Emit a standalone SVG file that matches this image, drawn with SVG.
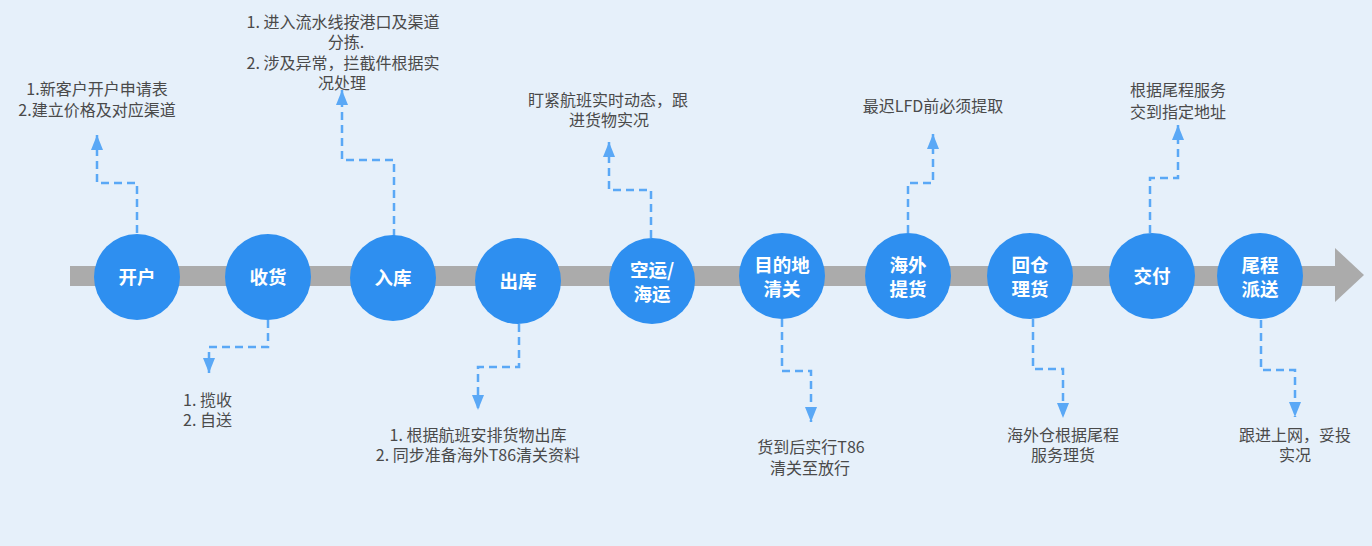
<svg xmlns="http://www.w3.org/2000/svg" width="1372" height="546" viewBox="0 0 1372 546">
<style>
.bg{fill:#e6f0fa}
.bar{fill:#ababab}
.node circle{fill:#2e8ff0}
.node text{fill:#ffffff;font-family:"Noto Sans CJK SC","Noto Sans",sans-serif;font-size:18.5px;font-weight:bold;text-anchor:middle}
.note{fill:#4a4a4a;font-family:"Noto Sans CJK SC","Noto Sans",sans-serif;font-size:16px;text-anchor:middle}
.conn polyline{fill:none;stroke:#5aa8f6;stroke-width:2.5;stroke-dasharray:8 5;marker-end:url(#ah)}
</style>
<defs>
<marker id="ah" markerUnits="userSpaceOnUse" markerWidth="15" markerHeight="12" viewBox="0 0 15 12" refX="15" refY="6" orient="auto">
<path d="M0,0 L15,6 L0,12 Z" fill="#5aa8f6"/>
</marker>
</defs>
<rect class="bg" x="0" y="0" width="1372" height="546"/>
<g id="timeline">
<rect class="bar" x="70" y="266" width="1267" height="20"/>
<polygon class="bar" points="1335,248 1364,275 1335,302"/>
</g>
<g id="connectors" class="conn">
<polyline points="137,233 137,183 97,183 97,135"/>
<polyline points="268,320 268,347 209,347 209,373"/>
<polyline points="394,237 394,160 342,160 342,90"/>
<polyline points="519,324 519,367 478,367 478,410"/>
<polyline points="651,238 651,190 609,190 609,142"/>
<polyline points="782,319 782,371 811,371 811,422"/>
<polyline points="908,233 908,183 933,183 933,134"/>
<polyline points="1033,319 1033,369 1063,369 1063,418"/>
<polyline points="1150,233 1150,178 1178,178 1178,125"/>
<polyline points="1261,320 1261,370 1295,370 1295,417"/>
</g>
<g id="n1" class="node"><circle cx="137" cy="277" r="43"/><text x="137" y="284">开户</text></g>
<g id="n2" class="node"><circle cx="268" cy="277" r="43"/><text x="268" y="284">收货</text></g>
<g id="n3" class="node"><circle cx="393" cy="278" r="43"/><text x="393" y="285">入库</text></g>
<g id="n4" class="node"><circle cx="518" cy="281" r="43"/><text x="518" y="288">出库</text></g>
<g id="n5" class="node"><circle cx="652" cy="281" r="43"/><text x="652" y="277">空运/<tspan x="652" dy="24">海运</tspan></text></g>
<g id="n6" class="node"><circle cx="782" cy="276" r="43"/><text x="782" y="272">目的地<tspan x="782" dy="24">清关</tspan></text></g>
<g id="n7" class="node"><circle cx="908" cy="276" r="43"/><text x="908" y="272">海外<tspan x="908" dy="24">提货</tspan></text></g>
<g id="n8" class="node"><circle cx="1030" cy="276" r="43"/><text x="1030" y="272">回仓<tspan x="1030" dy="24">理货</tspan></text></g>
<g id="n9" class="node"><circle cx="1152" cy="276" r="43"/><text x="1152" y="283">交付</text></g>
<g id="n10" class="node"><circle cx="1260" cy="276" r="43"/><text x="1260" y="272">尾程<tspan x="1260" dy="24">派送</tspan></text></g>
<g id="notes">
<text class="note" x="97" y="95">1.新客户开户申请表<tspan x="97" dy="21">2.建立价格及对应渠道</tspan></text>
<text class="note" x="183" y="406" style="text-anchor:start">1. 揽收<tspan x="183" dy="20">2. 自送</tspan></text>
<text class="note" x="343" y="28">1. 进入流水线按港口及渠道<tspan x="346" dy="20">分拣.</tspan><tspan x="343" dy="21">2. 涉及异常，拦截件根据实</tspan><tspan x="342" dy="20">况处理</tspan></text>
<text class="note" x="478" y="441">1. 根据航班安排货物出库<tspan x="478" dy="20">2. 同步准备海外T86清关资料</tspan></text>
<text class="note" x="608" y="106">盯紧航班实时动态，跟<tspan x="609" dy="20">进货物实况</tspan></text>
<text class="note" x="811" y="453">货到后实行T86<tspan x="810" dy="21">清关至放行</tspan></text>
<text class="note" x="933" y="112">最迟LFD前必须提取</text>
<text class="note" x="1063" y="441">海外仓根据尾程<tspan x="1063" dy="20">服务理货</tspan></text>
<text class="note" x="1178" y="96">根据尾程服务<tspan x="1178" dy="22">交到指定地址</tspan></text>
<text class="note" x="1295" y="441">跟进上网，妥投<tspan x="1295" dy="20">实况</tspan></text>
</g>
</svg>
